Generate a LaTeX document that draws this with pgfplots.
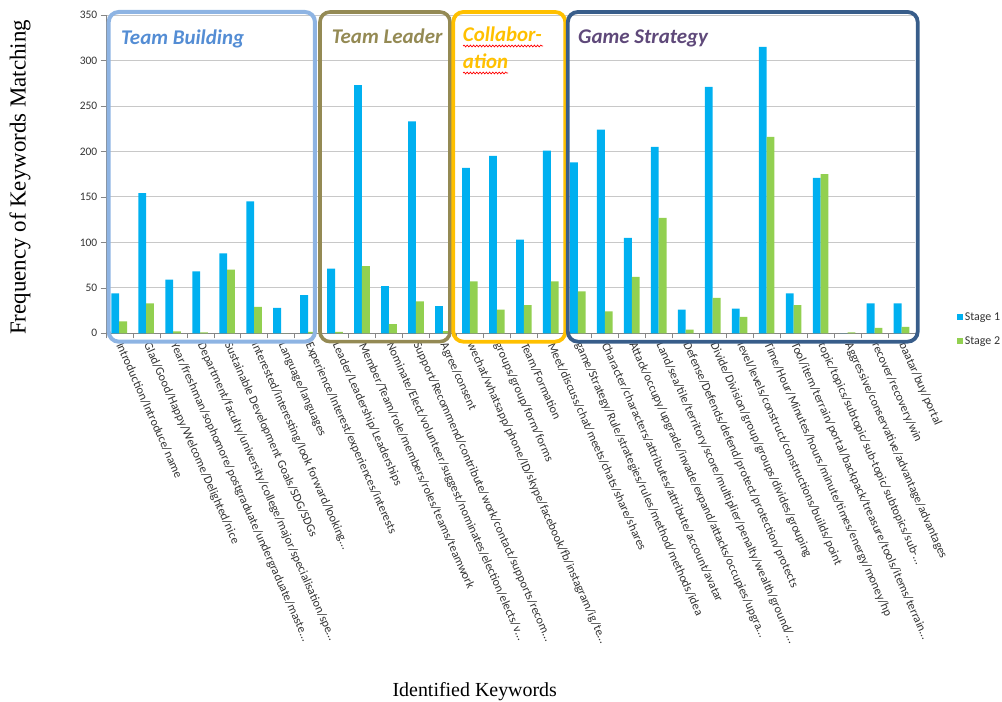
\documentclass[border=0pt]{standalone}
\usepackage{pgfplots}
\pgfplotsset{compat=1.18}
\usepackage{fontspec}
\setmainfont{Liberation Serif}
\newfontfamily\calibri{Carlito}
\usetikzlibrary{decorations.pathmorphing}

\definecolor{stageone}{RGB}{0,176,240}
\definecolor{stagetwo}{RGB}{146,208,80}
\definecolor{gridgray}{RGB}{200,200,200}
\definecolor{axisgray}{RGB}{134,134,134}
\definecolor{tbbox}{RGB}{142,180,227}
\definecolor{tbtext}{RGB}{84,141,212}
\definecolor{tlcol}{RGB}{148,138,84}
\definecolor{colcol}{RGB}{255,192,0}
\definecolor{gsbox}{RGB}{56,93,138}
\definecolor{gstext}{RGB}{95,73,122}

\begin{document}
\begin{tikzpicture}
\path[use as bounding box] (0,0) rectangle (1002bp,702bp);
\begin{axis}[
    at={(105.7bp,368.7bp)}, anchor=south west,
    scale only axis, width=809.3bp, height=318.3bp,
    xmin=-0.5, xmax=29.5, ymin=0, ymax=350,
    axis lines*=left,
    axis line style={axisgray},
    ytick={0,50,...,350},
    ymajorgrids, grid style={gridgray, line width=0.8pt},
    tick align=outside, major tick length=5bp,
    tick style={axisgray},
    xtick={-0.5,0.5,...,29.5},
    x tick label as interval,
    xticklabels={
        Introduction/Introduce/name,
        Glad/Good/Happy/Welcome/Delighted/nice,
        Year/freshman/sophomore/postgraduate/undergraduate/maste…,
        Department/faculty/university/college/major/specialisation/spe…,
        Sustainable Development Goals/SDG/SDGs,
        interested/interesting/look forward/looking…,
        Language/languages,
        Experience/Interest/experiences/interests,
        Leader/Leadership/Leaderships,
        Member/Team/role/members/roles/teams/teamwork,
        Nominate/Elect/volunteer/suggest/nominates/election/elects/v…,
        Support/Recommend/contribute/work/contact/supports/recom…,
        Agree/consent,
        wechat/whatsapp/phone/ID/skype/facebook/fb/instagram/ig/te…,
        groups/group/form/forms,
        Team/Formation,
        Meet/discuss/chat/meets/chats/share/shares,
        game/Strategy/Rule/strategies/rules/method/methods/idea,
        Character/characters/attributes/attribute/account/avatar,
        Attack/occupy/upgrade/invade/expand/attacks/occupies/upgra…,
        Land/sea/tile/territory/score/multiplier/penalty/wealth/ground/…,
        Defense/Defends/defend/protect/protection/protects,
        Divide/Division/group/groups/divides/grouping,
        level/levels/construct/constructions/builds/point,
        Time/Hour/Minutes/hours/minute/times/energy/money/hp,
        Tool/item/terrain/portal/backpack/treasure/tools/items/terrain…,
        topic/topics/subtopic/sub-topic/subtopics/sub-…,
        Aggressive/conservative/advantage/advantages,
        recover/recovery/win,
        baatar/buy/portal},
    xticklabel shift=4bp,
    xticklabel style={rotate=-66, anchor=west, inner sep=1bp,
        font=\calibri\fontsize{12.2}{13}\selectfont, text=black!80},
    yticklabel style={font=\calibri\fontsize{11.5}{12}\selectfont, text=black!80},
    /pgf/number format/assume math mode=true,
    xlabel={Identified Keywords},
    ylabel={Frequency of Keywords Matching},
    xlabel style={at={(axis description cs:0.456,-1.127)}, anchor=center,
        font=\fontsize{20}{22}\selectfont},
    ylabel style={at={(axis description cs:-0.106,0.49)}, anchor=center,
        font=\fontsize{23}{25}\selectfont},
    legend style={at={(axis description cs:1.052,0.072)}, anchor=north west,
        draw=none, fill=none, inner sep=0pt, row sep=10.5bp,
        font=\calibri\fontsize{12}{13}\selectfont, text=black!80},
    legend cell align=left,
    legend image code/.code={\fill[#1] (0bp,-2.8bp) rectangle (5.6bp,2.8bp);},
    clip=false,
]
\addplot[ybar, bar width=0.29, bar shift=-0.145, fill=stageone, draw=none] coordinates {
    (0,44) (1,154) (2,59) (3,68) (4,88) (5,145) (6,28) (7,42)
    (8,71) (9,273) (10,52) (11,233) (12,30)
    (13,182) (14,195) (15,103) (16,201)
    (17,188) (18,224) (19,105) (20,205) (21,26) (22,271) (23,27)
    (24,315) (25,44) (26,171) (27,0) (28,33) (29,33)
};
\addplot[ybar, bar width=0.29, bar shift=0.145, fill=stagetwo, draw=none] coordinates {
    (0,13) (1,33) (2,2) (3,1) (4,70) (5,29) (6,0) (7,1.5)
    (8,1.5) (9,74) (10,10) (11,35) (12,2.5)
    (13,57) (14,26) (15,31) (16,57)
    (17,46) (18,24) (19,62) (20,127) (21,4) (22,39) (23,18)
    (24,216) (25,31) (26,175) (27,1) (28,6) (29,7)
};
\legend{Stage 1, Stage 2}
% group boxes
\draw[tbbox, line width=4bp, rounded corners=10bp]
    (axis cs:-0.389,-9.2) rectangle (axis cs:7.258,353.3);
\draw[tlcol, line width=3.6bp, rounded corners=10bp]
    (axis cs:7.444,-9.2) rectangle (axis cs:12.263,353.3);
\draw[colcol, line width=3.8bp, rounded corners=10bp]
    (axis cs:12.385,-9.2) rectangle (axis cs:16.537,353.3);
\draw[gsbox, line width=3.8bp, rounded corners=10bp]
    (axis cs:16.63,-9.2) rectangle (axis cs:29.6,353.3);
\end{axis}
% group titles
\begin{scope}[every node/.style={inner sep=0pt, anchor=base west,
    font=\calibri\bfseries\itshape\fontsize{21}{22}\selectfont}]
\node[text=tbtext] at (121bp,657.7bp) {Team Building};
\node[text=tlcol] at (331.7bp,658.7bp) {Team Leader};
\node[text=colcol] at (462.7bp,660.3bp) {Collabor-};
\node[text=colcol] at (462.7bp,633bp) {ation};
\node[text=gstext] at (578bp,658.7bp) {Game Strategy};
\end{scope}
\draw[red, line width=0.7bp, decorate, decoration={snake, amplitude=0.9bp, segment length=3.2bp}]
    (463bp,656bp) -- (543bp,656bp);
\draw[red, line width=0.7bp, decorate, decoration={snake, amplitude=0.9bp, segment length=3.2bp}]
    (463bp,629bp) -- (508bp,629bp);
\end{tikzpicture}
\end{document}
